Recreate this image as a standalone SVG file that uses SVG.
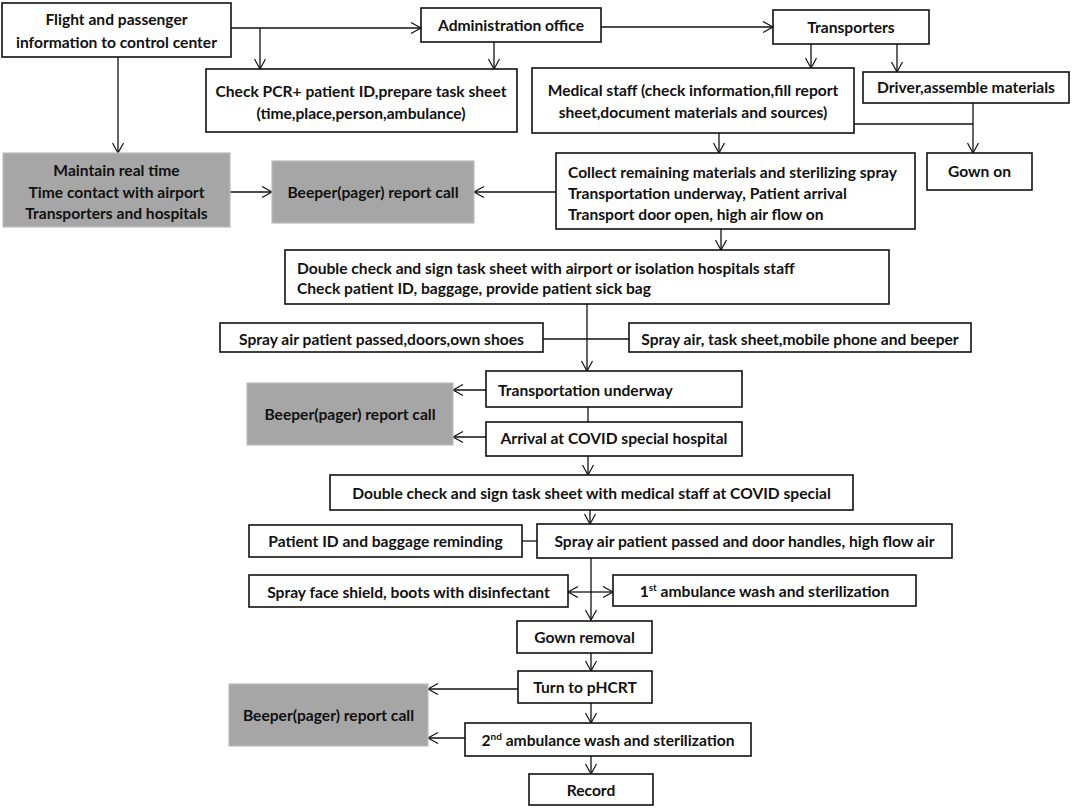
<svg xmlns="http://www.w3.org/2000/svg" width="1084" height="808" viewBox="0 0 1084 808">
<defs>
<marker id="ah" markerUnits="userSpaceOnUse" markerWidth="14" markerHeight="14" refX="11" refY="6" orient="auto-start-reverse">
<path d="M1,0.5 L11,6 L1,11.5" fill="none" stroke="#111" stroke-width="1.2"/>
</marker>
<style>
.b{fill:#fff;stroke:#111;stroke-width:1.6}
.g{fill:#a6a6a6;stroke:#bdbdbd;stroke-width:1.2}
text{font-family:Lato,"Liberation Sans",sans-serif;font-weight:bold;font-size:15.6px;fill:#111}
.m{text-anchor:middle}
.c line,.c path{stroke:#111;stroke-width:1.3;fill:none}
.a{marker-end:url(#ah)}
</style>
</defs>
<rect width="1084" height="808" fill="#fff"/>

<g id="connectors" class="c">
<line class="a" x1="231" y1="28" x2="421" y2="28"/>
<line class="a" x1="260" y1="28" x2="260" y2="69"/>
<line class="a" x1="494" y1="42" x2="494" y2="69"/>
<line class="a" x1="601" y1="27" x2="773" y2="27"/>
<line class="a" x1="811" y1="44" x2="811" y2="68"/>
<line class="a" x1="897" y1="44" x2="897" y2="72"/>
<line x1="854" y1="124" x2="973" y2="124"/>
<line class="a" x1="973" y1="103" x2="973" y2="153"/>
<line class="a" x1="719" y1="133" x2="719" y2="153"/>
<line class="a" x1="118" y1="57" x2="118" y2="153"/>
<line class="a" x1="230" y1="192" x2="272" y2="192"/>
<line class="a" x1="556" y1="192" x2="474" y2="192"/>
<line class="a" x1="721" y1="229" x2="721" y2="250"/>
<line class="a" x1="587" y1="304" x2="587" y2="371"/>
<line x1="543" y1="339" x2="629" y2="339"/>
<line class="a" x1="486" y1="390" x2="453" y2="390"/>
<line x1="588" y1="407" x2="588" y2="422"/>
<line class="a" x1="486" y1="437" x2="453" y2="437"/>
<line class="a" x1="588" y1="456" x2="588" y2="475"/>
<line class="a" x1="590" y1="510" x2="590" y2="524"/>
<line x1="522" y1="541" x2="537" y2="541"/>
<line class="a" x1="591" y1="558" x2="591" y2="620"/>
<line class="a" x1="591" y1="592" x2="568" y2="592"/>
<line class="a" x1="591" y1="592" x2="613" y2="592"/>
<line class="a" x1="591" y1="653" x2="591" y2="671"/>
<line class="a" x1="518" y1="689" x2="428" y2="689"/>
<line class="a" x1="591" y1="703" x2="591" y2="723"/>
<line class="a" x1="465" y1="738" x2="428" y2="738"/>
<line class="a" x1="591" y1="756" x2="591" y2="774"/>
</g>

<g id="n-flight"><rect class="b" x="2" y="3" width="229" height="54"/>
<text class="m" x="116.5" y="24.5">Flight and passenger</text>
<text class="m" x="116.5" y="47.5">information to control center</text></g>

<g id="n-admin"><rect class="b" x="421" y="8" width="180" height="34"/>
<text class="m" x="511" y="30.5">Administration office</text></g>

<g id="n-transporters"><rect class="b" x="773" y="10" width="156" height="34"/>
<text class="m" x="851" y="32.5">Transporters</text></g>

<g id="n-check"><rect class="b" x="206" y="69" width="311" height="63"/>
<text class="m" x="361" y="96.5">Check PCR+ patient ID,prepare task sheet</text>
<text class="m" x="361" y="118.5">(time,place,person,ambulance)</text></g>

<g id="n-medical"><rect class="b" x="532" y="68" width="322" height="65"/>
<text class="m" x="693" y="95.5">Medical staff (check information,fill report</text>
<text class="m" x="693" y="118">sheet,document materials and sources)</text></g>

<g id="n-driver"><rect class="b" x="863" y="72" width="206" height="31"/>
<text class="m" x="966" y="93">Driver,assemble materials</text></g>

<g id="n-gownon"><rect class="b" x="927" y="153" width="105" height="37"/>
<text class="m" x="979.5" y="177">Gown on</text></g>

<g id="n-maintain"><rect class="g" x="3" y="153" width="227" height="74"/>
<text class="m" x="116.5" y="175.5">Maintain real time</text>
<text class="m" x="116.5" y="197.5">Time contact with airport</text>
<text class="m" x="116.5" y="219">Transporters and hospitals</text></g>

<g id="n-beeper1"><rect class="g" x="272" y="161" width="202" height="62"/>
<text class="m" x="373" y="197.5">Beeper(pager) report call</text></g>

<g id="n-collect"><rect class="b" x="556" y="153" width="359" height="76"/>
<text x="568" y="177.5">Collect remaining materials and sterilizing spray</text>
<text x="568" y="198.5">Transportation underway, Patient arrival</text>
<text x="568" y="219.5">Transport door open, high air flow on</text></g>

<g id="n-dc1"><rect class="b" x="285" y="250" width="604" height="54"/>
<text x="297" y="273.5">Double check and sign task sheet with airport or isolation hospitals staff</text>
<text x="297" y="293.5">Check patient ID, baggage, provide patient sick bag</text></g>

<g id="n-sprayleft"><rect class="b" x="220" y="323" width="323" height="29"/>
<text class="m" x="381.5" y="344.5">Spray air patient passed,doors,own shoes</text></g>

<g id="n-sprayright"><rect class="b" x="629" y="323" width="342" height="29"/>
<text class="m" x="800" y="344.5">Spray air, task sheet,mobile phone and beeper</text></g>

<g id="n-transport"><rect class="b" x="486" y="371" width="256" height="36"/>
<text x="498" y="395.5">Transportation underway</text></g>

<g id="n-beeper2"><rect class="g" x="247" y="383" width="206" height="62"/>
<text class="m" x="350" y="419.5">Beeper(pager) report call</text></g>

<g id="n-arrival"><rect class="b" x="486" y="422" width="256" height="34"/>
<text class="m" x="614" y="443.5">Arrival at COVID special hospital</text></g>

<g id="n-dc2"><rect class="b" x="330" y="475" width="523" height="35"/>
<text class="m" x="591.5" y="498.5">Double check and sign task sheet with medical staff at COVID special</text></g>

<g id="n-patientid"><rect class="b" x="249" y="525" width="273" height="32"/>
<text class="m" x="385.5" y="546.5">Patient ID and baggage reminding</text></g>

<g id="n-spraydoor"><rect class="b" x="537" y="524" width="415" height="34"/>
<text class="m" x="744.5" y="546.5">Spray air patient passed and door handles, high flow air</text></g>

<g id="n-sprayface"><rect class="b" x="249" y="575" width="319" height="32"/>
<text class="m" x="408.5" y="597.5">Spray face shield, boots with disinfectant</text></g>

<g id="n-wash1"><rect class="b" x="613" y="575" width="303" height="31"/>
<text class="m" x="764.5" y="597">1<tspan font-size="10" dy="-6">st</tspan><tspan dy="6"> ambulance wash and sterilization</tspan></text></g>

<g id="n-gownremoval"><rect class="b" x="517" y="621" width="135" height="32"/>
<text class="m" x="584.5" y="642.5">Gown removal</text></g>

<g id="n-turn"><rect class="b" x="518" y="671" width="134" height="32"/>
<text class="m" x="585" y="693">Turn to pHCRT</text></g>

<g id="n-beeper3"><rect class="g" x="229" y="684" width="199" height="62"/>
<text class="m" x="328.5" y="720.5">Beeper(pager) report call</text></g>

<g id="n-wash2"><rect class="b" x="465" y="723" width="286" height="33"/>
<text class="m" x="608" y="745.5">2<tspan font-size="10" dy="-6">nd</tspan><tspan dy="6"> ambulance wash and sterilization</tspan></text></g>

<g id="n-record"><rect class="b" x="529" y="774" width="124" height="31"/>
<text class="m" x="591" y="795.5">Record</text></g>
</svg>
